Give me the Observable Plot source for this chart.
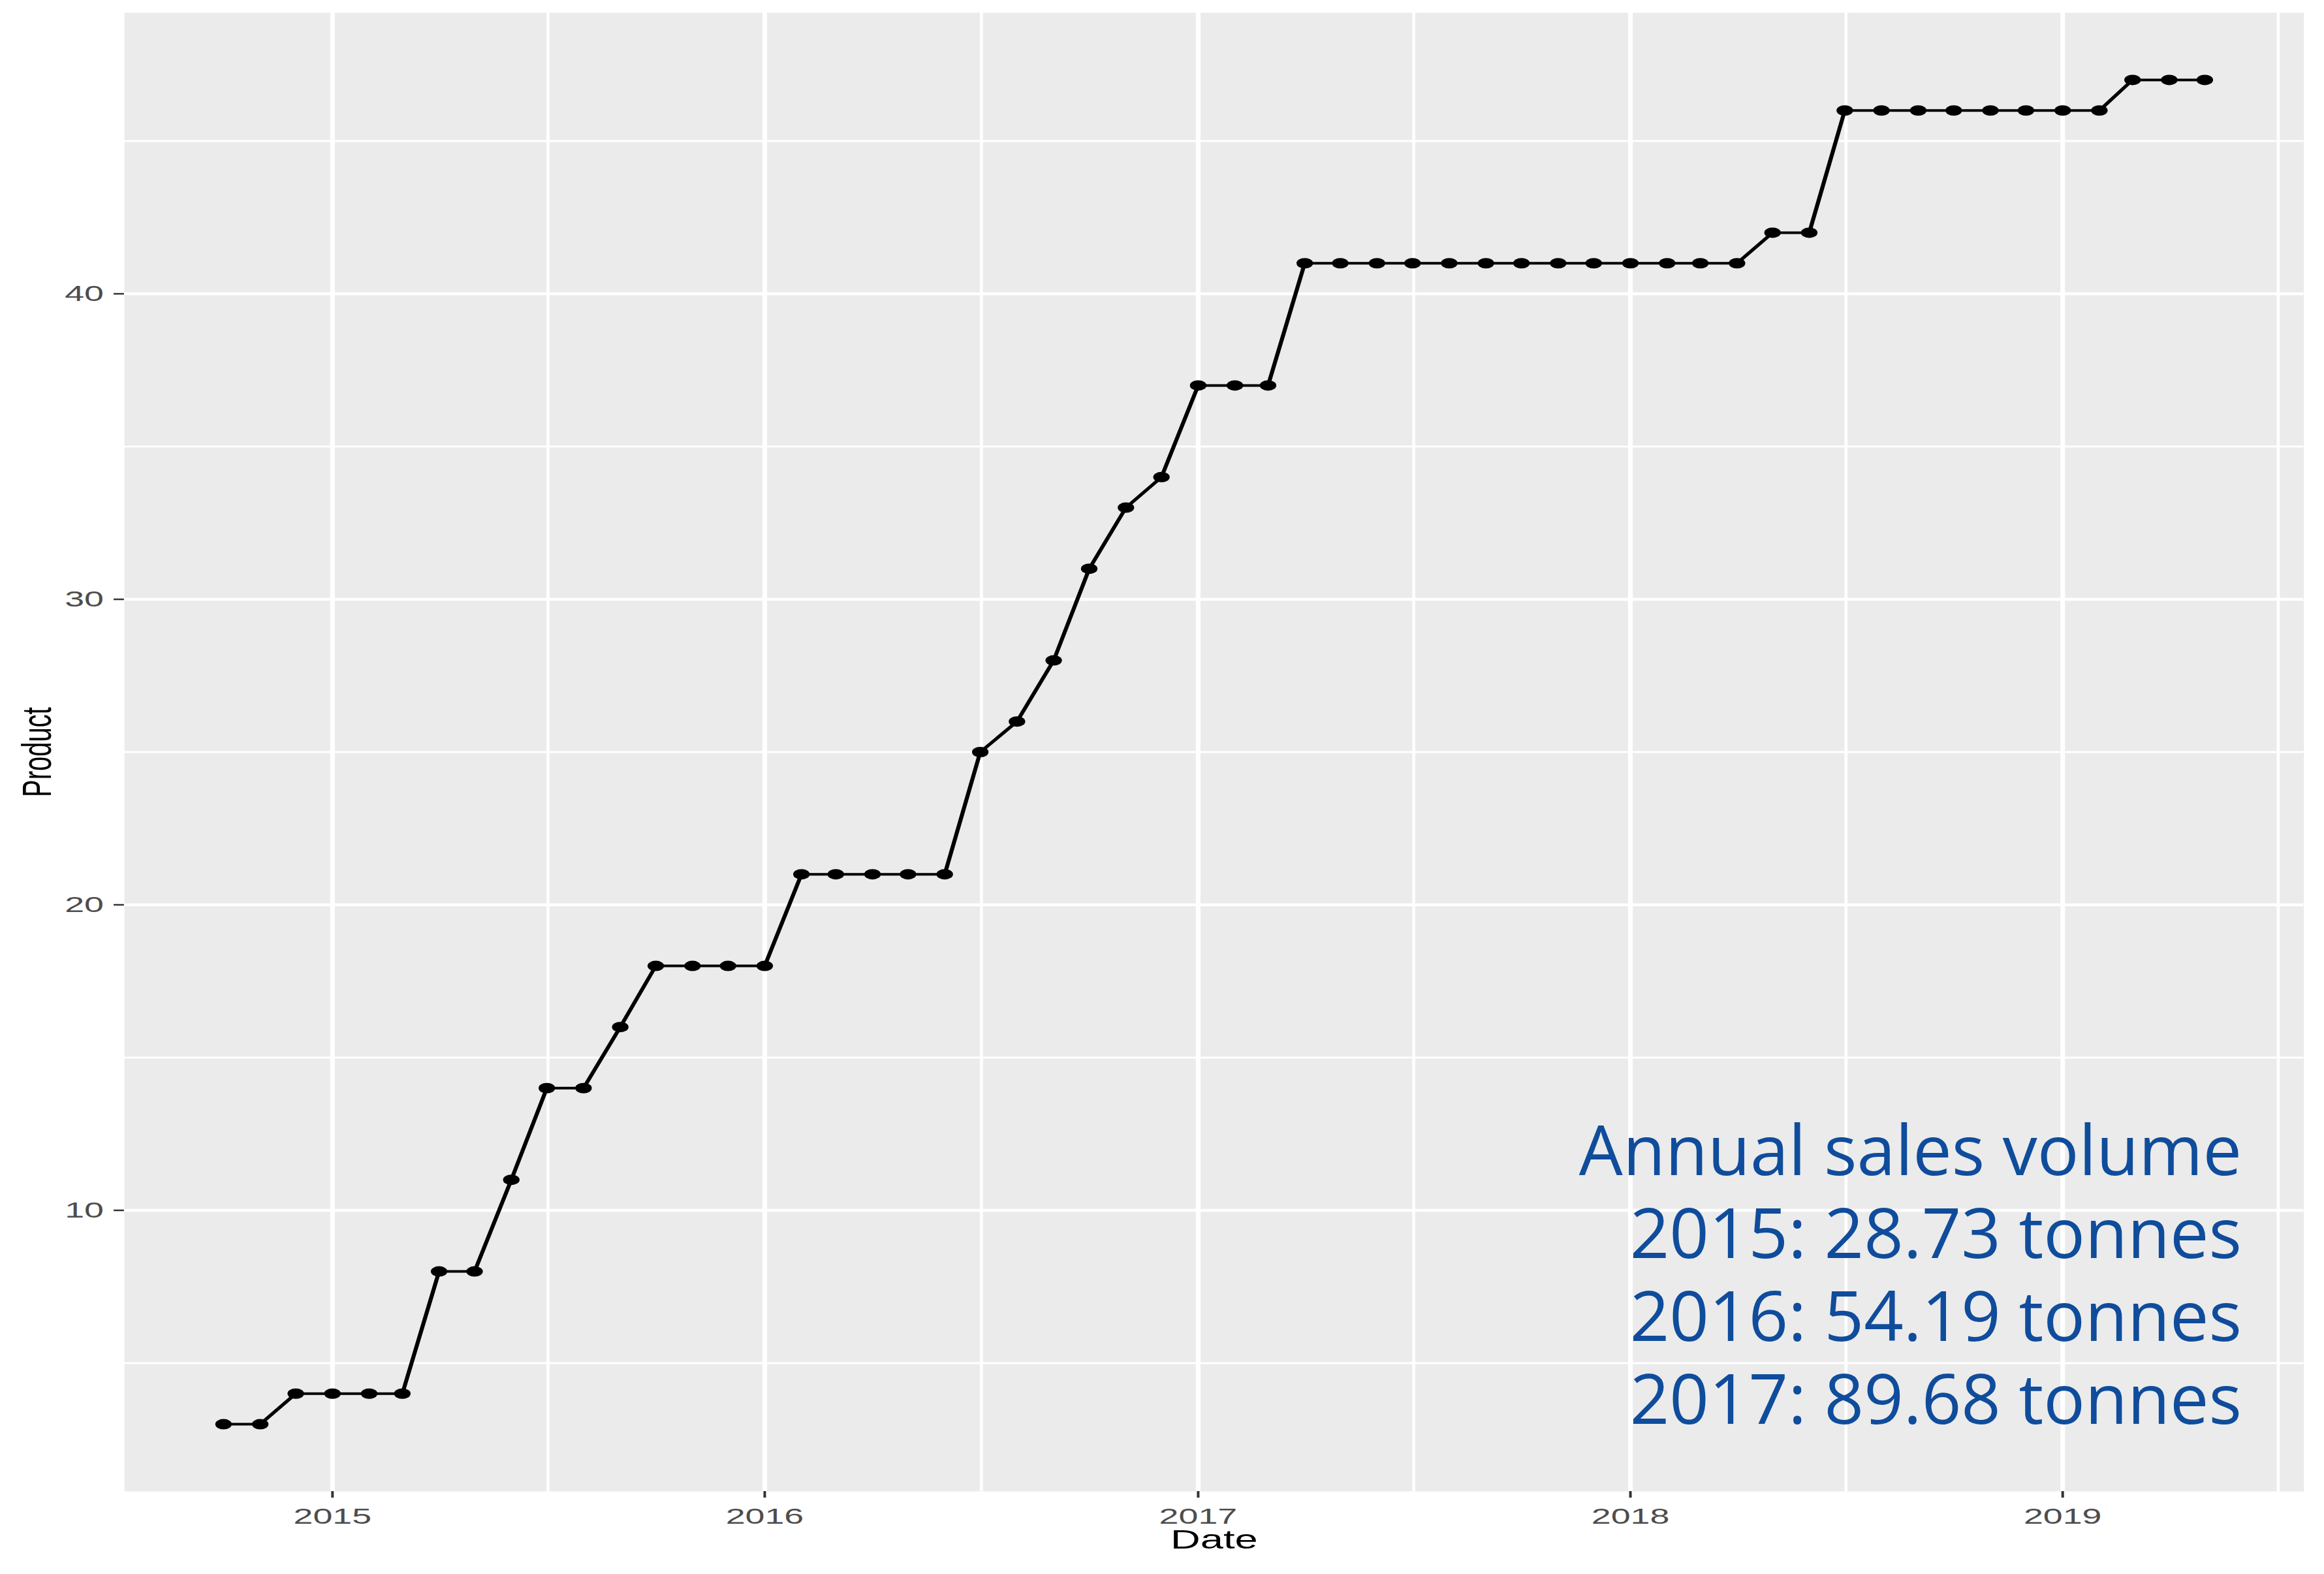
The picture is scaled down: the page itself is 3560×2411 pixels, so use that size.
<!DOCTYPE html>
<html>
<head>
<meta charset="utf-8">
<script src="https://cdn.jsdelivr.net/npm/d3@7"></script>
<script src="https://cdn.jsdelivr.net/npm/@observablehq/plot@0.6"></script>
<style>
  html, body { margin: 0; padding: 0; background: #ffffff; }
  #wrap { position: relative; width: 3560px; height: 2411px; overflow: hidden; background: #ffffff; }
  #note {
    position: absolute; right: 126px; top: 1696px;
    text-align: right; white-space: pre;
    font-family: "Open Sans", "Noto Sans", sans-serif;
    font-size: 106px; line-height: 127px; color: #0f4c9c;
  }
</style>
</head>
<body>
<div id="wrap"></div>
<script>
// ---- data ----
const months = [
  "2014-10","2014-11","2014-12",
  "2015-01","2015-02","2015-03","2015-04","2015-05","2015-06","2015-07","2015-08","2015-09","2015-10","2015-11","2015-12",
  "2016-01","2016-02","2016-03","2016-04","2016-05","2016-06","2016-07","2016-08","2016-09","2016-10","2016-11","2016-12",
  "2017-01","2017-02","2017-03","2017-04","2017-05","2017-06","2017-07","2017-08","2017-09","2017-10","2017-11","2017-12",
  "2018-01","2018-02","2018-03","2018-04","2018-05","2018-06","2018-07","2018-08","2018-09","2018-10","2018-11","2018-12",
  "2019-01","2019-02","2019-03","2019-04","2019-05"
];
const product = [
  3, 3, 4,
  4, 4, 4, 8, 8, 11, 14, 14, 16, 18, 18, 18,
  18, 21, 21, 21, 21, 21, 25, 26, 28, 31, 33, 34,
  37, 37, 37, 41, 41, 41, 41, 41, 41, 41, 41, 41,
  41, 41, 41, 41, 42, 42, 46, 46, 46, 46, 46, 46,
  46, 46, 47, 47, 47
];
const xMajorTicks = ["2015-01-01","2016-01-01","2017-01-01","2018-01-01","2019-01-01"];
const xMinorTicks = ["2015-07-02","2016-07-02","2017-07-02","2018-07-02","2019-07-02"];
const yMajorTicks = [10, 20, 30, 40];
const yMinorTicks = [5, 15, 25, 35, 45];
const xTitle = "Date";
const yTitle = "Product";
const noteLines = [
  "Annual sales volume",
  "2015: 28.73 tonnes",
  "2016: 54.19 tonnes",
  "2017: 89.68 tonnes"
];

// ---- build ----
const parseMonth = d3.utcParse("%Y-%m");
const parseDay = d3.utcParse("%Y-%m-%d");
const data = months.map((m, i) => ({date: parseMonth(m), value: product[i]}));
const xMajor = xMajorTicks.map(parseDay);
const xMinor = xMinorTicks.map(parseDay);

// ggplot-style 5% expansion
const [x0, x1] = d3.extent(data, d => d.date);
const xPad = (x1 - x0) * 0.05;
const [y0, y1] = d3.extent(data, d => d.value);
const yPad = (y1 - y0) * 0.05;

// The reference is a ggplot image stretched horizontally; draw narrower, then stretch.
const FULL_W = 3560, FULL_H = 2411;
const W = 2250;

const font = "'Liberation Sans', Arial, Helvetica, sans-serif";

const chart = Plot.plot({
  width: W,
  height: FULL_H,
  marginLeft: 120,
  marginRight: 20,
  marginTop: 19,
  marginBottom: 127,
  style: {fontFamily: font, background: "#ffffff"},
  x: {type: "utc", domain: [new Date(+x0 - xPad), new Date(+x1 + xPad)]},
  y: {domain: [y0 - yPad, y1 + yPad]},
  marks: [
    Plot.frame({fill: "#ebebeb", stroke: "none"}),
    Plot.gridX(xMinor, {stroke: "#ffffff", strokeOpacity: 1, strokeWidth: 3}),
    Plot.gridY(yMinorTicks, {stroke: "#ffffff", strokeOpacity: 1, strokeWidth: 3}),
    Plot.gridX(xMajor, {stroke: "#ffffff", strokeOpacity: 1, strokeWidth: 4.5}),
    Plot.gridY(yMajorTicks, {stroke: "#ffffff", strokeOpacity: 1, strokeWidth: 4.5}),
    Plot.axisX(xMajor, {tickFormat: "%Y", tickSize: 10, tickPadding: 15, fontSize: 34,
      stroke: "#333333", strokeWidth: 2.5, fill: "#4d4d4d", label: null}),
    Plot.axisY(yMajorTicks, {tickSize: 10, tickPadding: 10, fontSize: 34,
      stroke: "#333333", strokeWidth: 2.5, fill: "#4d4d4d", label: null}),
    Plot.text([xTitle], {frameAnchor: "bottom", dy: 87, lineAnchor: "bottom", textAnchor: "middle", fontSize: 40, fill: "#000000"}),
    Plot.text([yTitle], {frameAnchor: "left", rotate: -90, dx: -71, lineAnchor: "bottom", textAnchor: "middle", fontSize: 40, fill: "#000000"}),
    Plot.line(data, {x: "date", y: "value", stroke: "#000000", strokeWidth: 4}),
    Plot.dot(data, {x: "date", y: "value", r: 8, fill: "#000000", stroke: "none"})
  ]
});

chart.setAttribute("preserveAspectRatio", "none");
chart.setAttribute("width", FULL_W);
chart.setAttribute("height", FULL_H);
chart.style.width = FULL_W + "px";
chart.style.height = FULL_H + "px";
chart.style.maxWidth = "none";
chart.style.display = "block";

const wrap = document.getElementById("wrap");
wrap.appendChild(chart);

const note = document.createElement("div");
note.id = "note";
note.textContent = noteLines.join("\n");
wrap.appendChild(note);
</script>
</body>
</html>
